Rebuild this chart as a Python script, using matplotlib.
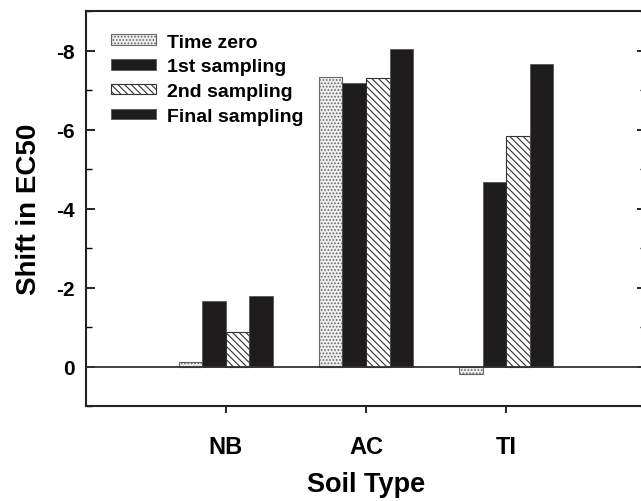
import numpy as np
import matplotlib
matplotlib.use('Agg')
import matplotlib.pyplot as plt
from matplotlib.ticker import MultipleLocator

plt.rcParams['font.family'] = ['Liberation Sans', 'DejaVu Sans']
plt.rcParams['font.weight'] = 'bold'
plt.rcParams['axes.unicode_minus'] = False
plt.rcParams['hatch.linewidth'] = 0.8

soils = ['NB', 'AC', 'TI']
series = ['Time zero', '1st sampling', '2nd sampling', 'Final sampling']
time_zero = [-0.12, -7.33, 0.18]
first = [-1.65, -7.17, -4.67]
second = [-0.87, -7.31, -5.84]
final = [-1.78, -8.03, -7.67]

fig = plt.figure(figsize=(6.41, 5.02), dpi=100)
ax = fig.add_axes([0.134, 0.189, 0.874, 0.787])

x = np.arange(1, len(soils) + 1)
w = 0.168
dark = '#1e1c1d'
edge = '#555555'
ax.bar(x - 1.5 * w, time_zero, w, color='#eeeeee', edgecolor='#666666', hatch='.....', lw=0.8, label=series[0])
ax.bar(x - 0.5 * w, first, w, color=dark, edgecolor=edge, lw=0.6, label=series[1])
ax.bar(x + 0.5 * w, second, w, color='white', edgecolor='#333333', hatch='\\\\\\\\\\', lw=0.8, label=series[2])
ax.bar(x + 1.5 * w, final, w, color=dark, edgecolor=edge, lw=0.6, label=series[3])

ax.axhline(0, color='#333333', lw=1.3, zorder=3)

ax.set_xlim(0, 4)
ax.set_ylim(1, -9)
ax.set_xticks(x)
ax.set_xticklabels(soils, fontsize=17, fontweight='bold')
ax.yaxis.set_major_locator(MultipleLocator(2))
ax.yaxis.set_minor_locator(MultipleLocator(1))
ax.tick_params(axis='y', which='major', direction='in', length=6.5, width=1.2,
               right=True, labelsize=15, pad=8)
ax.tick_params(axis='y', which='minor', direction='in', length=4, width=1.0, right=True)
ax.tick_params(axis='x', direction='out', length=5, width=1.2, pad=16)
for s in ax.spines.values():
    s.set_linewidth(1.5)
    s.set_color('#222222')

ax.set_xlabel('Soil Type', fontsize=19.5, fontweight='bold', labelpad=9)
ax.set_ylabel('Shift in EC50', fontsize=20, fontweight='bold', labelpad=10)

ax.legend(loc='upper left', bbox_to_anchor=(0.045, 0.943), frameon=False,
          fontsize=14, handlelength=2.3, handleheight=0.45, handletextpad=0.55,
          labelspacing=0.4, borderaxespad=0, borderpad=0)

fig.savefig('out.png', dpi=100)
